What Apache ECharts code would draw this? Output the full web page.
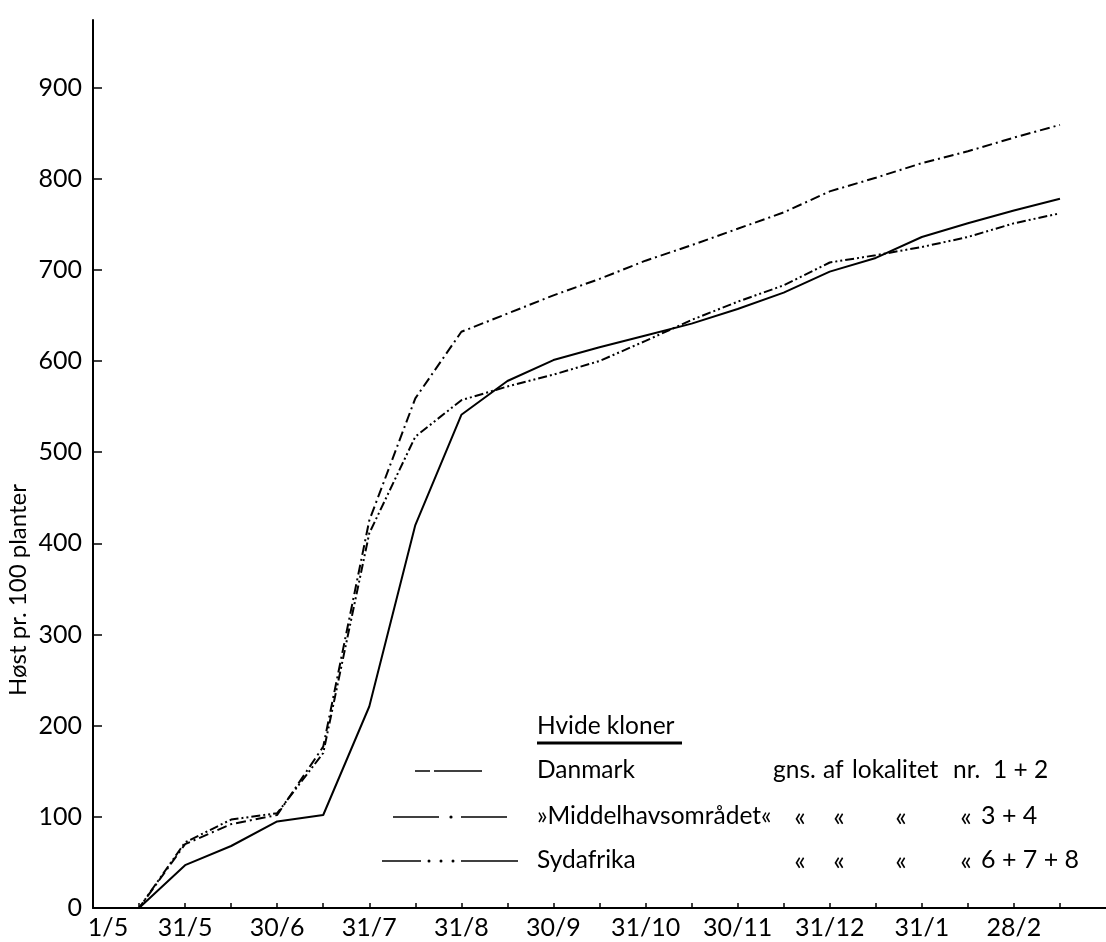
<!DOCTYPE html>
<html>
<head>
<meta charset="utf-8">
<script src="https://cdn.jsdelivr.net/npm/echarts@6/dist/echarts.min.js"></script>
<style>
html,body{margin:0;padding:0;background:#fff;}
#chart{width:1106px;height:942px;}
</style>
</head>
<body>
<div id="chart"></div>
<script>
// Half-monthly dates (category axis)
var dates = ["1/5","15/5","31/5","15/6","30/6","15/7","31/7","15/8","31/8","15/9","30/9","15/10","31/10","15/11","30/11","15/12","31/12","15/1","31/1","15/2","28/2","15/3","31/3"];
var shownLabels = ["1/5","31/5","30/6","31/7","31/8","30/9","31/10","30/11","31/12","31/1","28/2"];
var yTicks = [0,100,200,300,400,500,600,700,800,900];

// Series values (Høst pr. 100 planter)
var danmark      = [0,0,47,68,95,102,221,420,541,578,601,615,628,641,657,675,698,713,736,751,765,778];
var middelhavet  = [0,0,70,92,102,177,425,559,632,652,672,690,710,727,745,763,786,801,817,830,845,859];
var sydafrika    = [0,0,72,97,104,170,411,517,557,572,585,600,622,645,665,683,708,716,725,736,751,762];

var seriesNames = ["Danmark","»Middelhavsområdet«","Sydafrika"];
var FONT = "Lato";
var FS = 25;
var chart = echarts.init(document.getElementById('chart'), null, {renderer:'canvas'});

var black = '#000';
function txt(x,y,t,size,align){
  return {type:'text', x:x, y:y, style:{text:t, fill:black, font:(size||24.5)+'px '+FONT, align:align||'left', verticalAlign:'middle'}};
}
var option = {
  backgroundColor:'#fff',
  animation:false,
  grid:{left:93, right:0, top:20, bottom:34, containLabel:false},
  xAxis:{
    type:'category',
    data:dates,
    boundaryGap:false,
    axisLine:{lineStyle:{color:black,width:2}},
    axisTick:{show:true, inside:true, length:5, lineStyle:{color:black,width:1.5},
      interval:function(i){ return i>=1 && i<=21; }},
    axisLabel:{
      interval:function(i,v){ return shownLabels.indexOf(v)>=0 && i<=20; },
      color:black, fontFamily:FONT, fontSize:FS, margin:7,
      formatter:function(v,i){ return i===0 ? '{f|'+v+'}' : v; },
      rich:{f:{fontFamily:FONT,fontSize:FS,color:black,padding:[0,0,0,30]}}
    },
    splitLine:{show:false}
  },
  yAxis:{
    type:'value', min:0, max:974, interval:100,
    axisLine:{show:true,lineStyle:{color:black,width:2}},
    axisTick:{show:true, inside:true, length:9, lineStyle:{color:black,width:1.5}, customValues:yTicks},
    axisLabel:{color:black, fontFamily:FONT, fontSize:FS, margin:11, customValues:yTicks},
    splitLine:{show:false}
  },
  series:[
    {name:seriesNames[0], type:'line', data:danmark, symbol:'none',
      lineStyle:{color:black,width:2,type:'solid'}},
    {name:seriesNames[1], type:'line', data:middelhavet, symbol:'none',
      lineStyle:{color:black,width:2,type:[10,4,2,4]}},
    {name:seriesNames[2], type:'line', data:sydafrika, symbol:'none',
      lineStyle:{color:black,width:2,type:[9,3,2,3,2,3]}}
  ],
  graphic:[
    {type:'text', x:18, y:590, rotation:Math.PI/2,
      style:{text:'Høst pr. 100 planter', fill:black, font:'24px '+FONT, align:'center', verticalAlign:'middle'}},
    // legend title
    txt(537,726,'Hvide kloner'),
    {type:'line', shape:{x1:537,y1:743,x2:682,y2:743}, style:{stroke:black,lineWidth:3}},
    // row 1
    {type:'line', shape:{x1:415,y1:771,x2:430,y2:771}, style:{stroke:black,lineWidth:1.5}},
    {type:'line', shape:{x1:434,y1:771,x2:482,y2:771}, style:{stroke:black,lineWidth:1.5}},
    txt(537,770,seriesNames[0]),
    txt(773,770,'gns.'), txt(823,770,'af'), txt(852,770,'lokalitet'), txt(953,770,'nr.'), txt(993,770,'1 + 2'),
    // row 2
    {type:'line', shape:{x1:393,y1:817,x2:439,y2:817}, style:{stroke:black,lineWidth:1.5}},
    {type:'circle', shape:{cx:451,cy:817,r:1.6}, style:{fill:black}},
    {type:'line', shape:{x1:461,y1:817,x2:507,y2:817}, style:{stroke:black,lineWidth:1.5}},
    txt(537,816,seriesNames[1]),
    txt(800,817,'«',27,'center'), txt(839,817,'«',27,'center'), txt(901,817,'«',27,'center'), txt(966,817,'«',27,'center'),
    txt(981,816,'3 + 4',25),
    // row 3
    {type:'line', shape:{x1:382,y1:861,x2:421,y2:861}, style:{stroke:black,lineWidth:1.5}},
    {type:'circle', shape:{cx:429,cy:861,r:1.5}, style:{fill:black}},
    {type:'circle', shape:{cx:441,cy:861,r:1.5}, style:{fill:black}},
    {type:'circle', shape:{cx:453,cy:861,r:1.5}, style:{fill:black}},
    {type:'line', shape:{x1:461,y1:861,x2:518,y2:861}, style:{stroke:black,lineWidth:1.5}},
    txt(537,860,seriesNames[2]),
    txt(800,861,'«',27,'center'), txt(839,861,'«',27,'center'), txt(901,861,'«',27,'center'), txt(966,861,'«',27,'center'),
    txt(981,860,'6 + 7 + 8',25)
  ]
};
chart.setOption(option);
</script>
</body>
</html>
